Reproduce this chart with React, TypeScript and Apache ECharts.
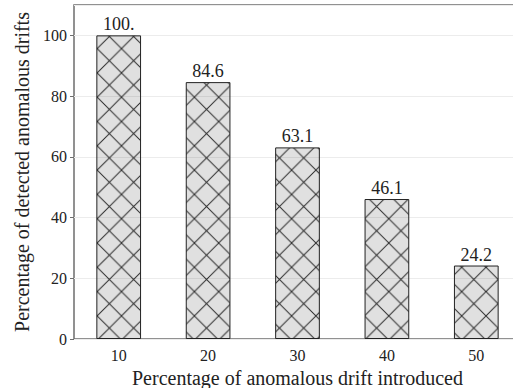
import { useEffect, useRef } from "react";
import * as echarts from "echarts";

const categories = ["10", "20", "30", "40", "50"];
const detected = [100, 84.6, 63.1, 46.1, 24.2];
const valueLabels = ["100.", "84.6", "63.1", "46.1", "24.2"];
const xTitle = "Percentage of anomalous drift introduced";
const yTitle = "Percentage of detected anomalous drifts";

const FONT = "Liberation Serif";
const AXIS_GRAY = "#6e6e6e";

export default function App() {
  const ref = useRef<HTMLDivElement>(null);
  useEffect(() => {
    const chart = echarts.init(ref.current!, null, { renderer: "svg" });
    const T = 24.3;
    const svg =
      `<svg xmlns='http://www.w3.org/2000/svg' width='${T}' height='${T}'>` +
      `<rect width='${T}' height='${T}' fill='rgba(0,0,0,0.12)'/>` +
      `<path d='M-2 -2L${T + 2} ${T + 2}M${T + 2} -2L-2 ${T + 2}' stroke='#2a2a2a' stroke-width='1' fill='none'/>` +
      `</svg>`;
    const url = "data:image/svg+xml;charset=utf-8," + encodeURIComponent(svg);
    const pattern: any = {
      image: url,
      repeat: "repeat",
      imageWidth: T,
      imageHeight: T,
      x: 2,
      y: 1.25,
    };
    const labelStyle = { fontFamily: FONT, fontSize: 16, color: "#222", fontWeight: "normal" as const };
    const titleStyle = { fontFamily: FONT, fontSize: 20, color: "#222", fontWeight: "normal" as const };
    chart.setOption({
      animation: false,
      backgroundColor: "#ffffff",
      textStyle: { fontFamily: FONT },
      grid: {
        left: 74,
        top: 5,
        right: 0,
        bottom: 49,
        outerBoundsMode: "none",
        containLabel: false,
        show: true,
        borderColor: AXIS_GRAY,
        borderWidth: 1.5,
      },
      xAxis: {
        type: "category",
        data: categories,
        axisLine: { show: false },
        axisTick: { alignWithLabel: true, length: 4, lineStyle: { color: AXIS_GRAY } },
        axisLabel: { ...labelStyle, margin: 8 },
        splitLine: { show: false },
        name: xTitle,
        nameLocation: "middle",
        nameGap: 36,
        nameTextStyle: { ...titleStyle, verticalAlign: "middle" },
      },
      yAxis: {
        type: "value",
        min: 0,
        max: 110,
        interval: 20,
        axisLine: { show: false },
        axisTick: { show: true, length: 4, lineStyle: { color: AXIS_GRAY } },
        axisLabel: { ...labelStyle, margin: 7, showMaxLabel: false },
        splitLine: { show: true, lineStyle: { color: "#ececec", width: 1 } },
        name: yTitle,
        nameLocation: "middle",
        nameGap: 40,
        nameTextStyle: titleStyle,
      },
      series: [
        {
          type: "bar",
          data: detected,
          barWidth: "50%",
          itemStyle: { color: pattern, borderColor: "#222", borderWidth: 1 },
          label: {
            show: true,
            position: "top",
            distance: 2,
            formatter: (p: any) => valueLabels[p.dataIndex],
            fontFamily: FONT,
            fontSize: 18,
            color: "#222",
          },
        },
      ],
    });
    return () => chart.dispose();
  }, []);
  return (
    <div
      ref={ref}
      style={{ position: "fixed", left: 0, top: 0, width: 521, height: 388, background: "#fff" }}
    />
  );
}
